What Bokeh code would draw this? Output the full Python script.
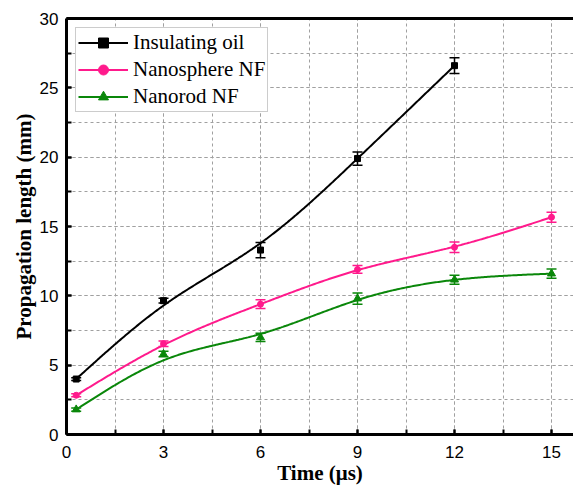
import numpy as np
from bokeh.plotting import figure
from bokeh.models import (ColumnDataSource, Whisker, TeeHead, LinearAxis, FixedTicker,
                          SingleIntervalTicker, Legend, LegendItem, Range1d)
from bokeh.embed import file_html
from bokeh.resources import INLINE

# ---- data ----
time_oil = [0.3, 3, 6, 9, 12]
oil_val = [4.0, 9.65, 13.3, 19.9, 26.6]
oil_err = [0.1, 0.17, 0.55, 0.48, 0.57]
oil_fit = [4.0, 9.3, 13.8, 19.9, 26.6]

time_nf = [0.3, 3, 6, 9, 12, 15]
sphere_val = [2.83, 6.55, 9.4, 11.9, 13.5, 15.67]
sphere_err = [0.1, 0.2, 0.32, 0.28, 0.38, 0.36]
sphere_fit = [2.83, 6.45, 9.4, 11.85, 13.55, 15.67]

rod_val = [1.8, 5.8, 7.0, 9.8, 11.16, 11.6]
rod_err = [0.12, 0.2, 0.3, 0.4, 0.33, 0.33]
rod_fit = [1.8, 5.35, 7.25, 9.7, 11.15, 11.6]

x_ticks = [0, 3, 6, 9, 12, 15]
y_ticks = [0, 5, 10, 15, 20, 25, 30]


def natural_spline(x, y, n=300):
    x = np.asarray(x, float)
    y = np.asarray(y, float)
    m = len(x)
    h = np.diff(x)
    A = np.zeros((m, m))
    b = np.zeros(m)
    A[0, 0] = 1
    A[-1, -1] = 1
    for i in range(1, m - 1):
        A[i, i - 1] = h[i - 1]
        A[i, i] = 2 * (h[i - 1] + h[i])
        A[i, i + 1] = h[i]
        b[i] = 3 * ((y[i + 1] - y[i]) / h[i] - (y[i] - y[i - 1]) / h[i - 1])
    c = np.linalg.solve(A, b)
    bb = np.zeros(m - 1)
    d = np.zeros(m - 1)
    for i in range(m - 1):
        bb[i] = (y[i + 1] - y[i]) / h[i] - h[i] * (2 * c[i] + c[i + 1]) / 3
        d[i] = (c[i + 1] - c[i]) / (3 * h[i])
    xs = np.linspace(x[0], x[-1], n)
    idx = np.clip(np.searchsorted(x, xs) - 1, 0, m - 2)
    dx = xs - x[idx]
    ys = y[idx] + bb[idx] * dx + c[idx] * dx ** 2 + d[idx] * dx ** 3
    return xs, ys


p = figure(width=573, height=489, output_backend="svg", toolbar_location=None,
           x_range=Range1d(0, 15.68), y_range=Range1d(0, 30),
           min_border_left=66, min_border_right=0, min_border_top=18, min_border_bottom=55)
p.background_fill_color = "white"
p.border_fill_color = "white"
p.outline_line_color = None

series = [
    ("Insulating oil", time_oil, oil_val, oil_err, oil_fit, "#000000", "square", 6),
    ("Nanosphere NF", time_nf, sphere_val, sphere_err, sphere_fit, "#FF1A8C", "circle", 6),
    ("Nanorod NF", time_nf, rod_val, rod_err, rod_fit, "#0A870A", "triangle", 8),
]

items = []
for name, xs, vals, errs, fit, col, mk, sz in series:
    sx, sy = natural_spline(xs, fit)
    ln = p.line(sx, sy, line_color=col, line_width=2)
    src = ColumnDataSource(dict(x=xs, y=vals,
                                lo=[v - e for v, e in zip(vals, errs)],
                                hi=[v + e for v, e in zip(vals, errs)]))
    sc = p.scatter("x", "y", source=src, marker=mk, size=sz, fill_color=col, line_color=col)
    w = Whisker(source=src, base="x", upper="hi", lower="lo", line_color=col, line_width=1.5,
                upper_head=TeeHead(size=10, line_color=col, line_width=1.5),
                lower_head=TeeHead(size=10, line_color=col, line_width=1.5))
    p.add_layout(w)
    items.append(LegendItem(label=name, renderers=[ln, sc]))

legend = Legend(items=items, location="top_left", margin=9, padding=2, spacing=2,
                glyph_width=50, glyph_height=25, label_standoff=5,
                label_text_font="Liberation Serif", label_text_font_size="21px",
                label_text_color="#000000", label_height=25,
                border_line_color="#999999", border_line_width=1,
                background_fill_alpha=1)
p.add_layout(legend, "center")

# axes
for ax in (p.xaxis[0], p.yaxis[0]):
    ax.axis_line_width = 3
    ax.axis_line_color = "#000000"
    ax.major_tick_in = 5
    ax.major_tick_out = 0
    ax.minor_tick_in = 5
    ax.minor_tick_out = 0
    ax.major_tick_line_width = 2
    ax.minor_tick_line_width = 2
    ax.major_label_text_font = "Liberation Sans"
    ax.major_label_text_font_size = "17px"
    ax.major_label_text_color = "#000000"
    ax.axis_label_text_font = "Liberation Serif"
    ax.axis_label_text_font_style = "bold"
    ax.axis_label_text_font_size = "21px"
    ax.axis_label_text_color = "#000000"

p.xaxis.ticker = SingleIntervalTicker(interval=3, num_minor_ticks=2)
p.yaxis.ticker = SingleIntervalTicker(interval=5, num_minor_ticks=2)
p.xaxis.axis_label = "Time (μs)"
p.yaxis.axis_label = "Propagation length (mm)"
p.xaxis.major_label_standoff = 11
p.xaxis.axis_label_standoff = 0
p.yaxis.major_label_standoff = 8
p.yaxis.axis_label_standoff = 1

top = LinearAxis(ticker=FixedTicker(ticks=[]), axis_line_width=3, axis_line_color="#000000")
top.major_label_text_font_size = "0px"
p.add_layout(top, "above")

for g in (p.xgrid[0], p.ygrid[0]):
    g.grid_line_color = "#a0a0a0"
    g.grid_line_dash = "3 3"
    g.grid_line_width = 1
    g.minor_grid_line_color = "#a0a0a0"
    g.minor_grid_line_dash = "3 3"
    g.minor_grid_line_width = 1

open("out.html", "w").write(file_html(p, INLINE))
